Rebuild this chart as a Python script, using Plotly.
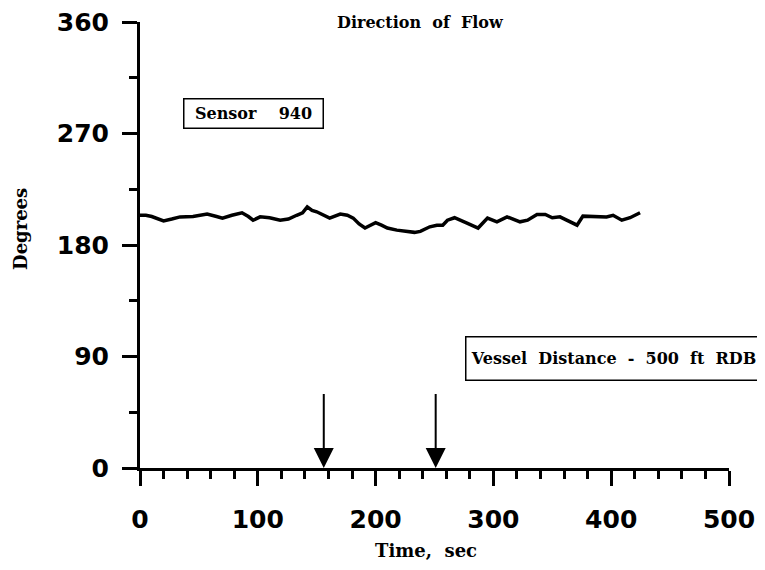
import plotly.graph_objects as go

time_sec = [0, 5, 10, 15, 20, 27, 34, 45, 57, 65, 70, 78, 86.6, 92, 96, 102, 110, 119, 126, 133,
            138, 142, 146, 150, 156, 161, 170, 176, 181, 186, 191, 200, 205, 210, 218, 225, 233,
            238, 246, 252, 257, 261, 267, 277.6, 287, 295, 303, 311.6, 318, 322.6, 329, 337, 344,
            350, 356.5, 365, 371, 376, 388, 396, 401.6, 409, 416, 424.5]
degrees = [204, 204, 203, 201, 199.5, 201, 202.7, 203, 205, 203, 201.7, 204, 206, 203, 200, 202.7,
           202, 200, 201, 204, 206, 210.8, 208, 206.8, 204, 201.7, 205, 204, 201.7, 197, 193.7, 198,
           196, 193.7, 192, 191, 190.2, 191, 194.7, 196, 196, 200, 202, 197.7, 193.7, 201.7, 198.7,
           202.7, 200, 198.7, 200, 204.6, 204.6, 202, 202.7, 198.7, 196, 203.3, 203.3, 202.7, 204,
           200, 202, 206]

arrow_times = [156, 251]
arrow_top = 61

x_ticks = [0, 100, 200, 300, 400, 500]
y_ticks = [0, 90, 180, 270, 360]
x_minor = [v for v in range(0, 501, 20) if v % 100 != 0]
y_minor = [45, 135, 225, 315]

NB = "\u00a0"
serif = "DejaVu Serif"

fig = go.Figure()
fig.add_trace(go.Scatter(x=time_sec, y=degrees, mode="lines",
                         line=dict(color="black", width=3.5), showlegend=False))

annotations = []
for t in arrow_times:
    annotations.append(dict(x=t, y=0, ax=t, ay=arrow_top, xref="x", yref="y", axref="x", ayref="y",
                            showarrow=True, arrowhead=2, arrowsize=2, arrowwidth=2,
                            arrowcolor="black", text=""))

annotations.append(dict(text="<b>Direction" + NB * 2 + "of" + NB * 2 + "Flow</b>", xref="paper", yref="paper",
                        x=0.477, y=1.0, xanchor="center", yanchor="middle", showarrow=False,
                        font=dict(family=serif, size=16, color="black")))
annotations.append(dict(text="<b>Sensor" + NB * 4 + "940</b>", xref="paper", yref="paper",
                        x=0.1927, y=0.795, xanchor="center", yanchor="middle", showarrow=False,
                        width=136, height=26,
                        bordercolor="black", borderwidth=1.5, borderpad=1, bgcolor="white",
                        font=dict(family=serif, size=16, color="black")))
annotations.append(dict(text="<b>Vessel" + NB * 2 + "Distance" + NB * 2 + "-" + NB * 2 + "500" + NB * 2 + "ft" + NB * 2 + "RDB</b>",
                        xref="paper", yref="paper",
                        x=0.804, y=0.2455, xanchor="center", yanchor="middle", showarrow=False,
                        width=292, height=40,
                        bordercolor="black", borderwidth=1.5, borderpad=1, bgcolor="white",
                        font=dict(family=serif, size=16, color="black")))
annotations.append(dict(text="<b>Degrees</b>", xref="paper", yref="paper", x=-0.202, y=0.536,
                        xanchor="center", yanchor="middle", textangle=-90, showarrow=False,
                        font=dict(family=serif, size=18, color="black")))
annotations.append(dict(text="<b>Time," + NB * 2 + "sec</b>", xref="paper", yref="paper", x=0.4856, y=-0.184,
                        xanchor="center", yanchor="middle", showarrow=False,
                        font=dict(family=serif, size=18, color="black")))

tickfont = dict(family="DejaVu Sans", size=25, color="black", weight="bold")

fig.update_layout(
    width=749, height=554,
    margin=dict(l=132, r=28, t=14, b=94),
    paper_bgcolor="white", plot_bgcolor="white",
    annotations=annotations,
    xaxis=dict(range=[0, 500], tickvals=x_ticks, ticks="outside", ticklen=15, tickwidth=3,
               tickcolor="black", showline=True, linewidth=3, linecolor="black",
               showgrid=False, zeroline=False, automargin=False, ticklabelstandoff=12,
               ticklabeloverflow="allow",
               minor=dict(tickvals=x_minor, ticks="outside", ticklen=8, tickwidth=3, tickcolor="black", showgrid=False),
               tickfont=tickfont),
    yaxis=dict(range=[0, 360], tickvals=y_ticks, ticks="outside", ticklen=15, tickwidth=3,
               tickcolor="black", showline=True, linewidth=3, linecolor="black",
               showgrid=False, zeroline=False, automargin=False, ticklabelstandoff=8,
               ticklabeloverflow="allow",
               minor=dict(tickvals=y_minor, ticks="outside", ticklen=8, tickwidth=3, tickcolor="black", showgrid=False),
               tickfont=tickfont),
)

fig.write_html("out.html")
